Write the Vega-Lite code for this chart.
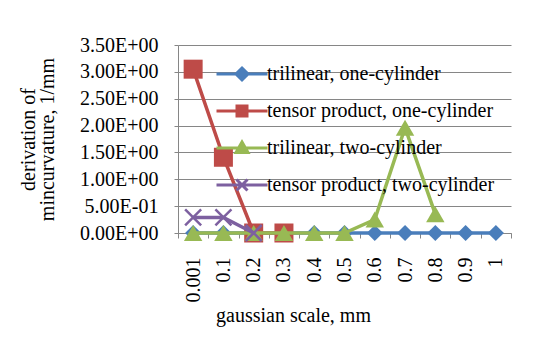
{
  "$schema": "https://vega.github.io/schema/vega-lite/v6.json",
  "autosize": {"type": "none"},
  "width": 333,
  "height": 188,
  "padding": {"left": 178, "top": 45, "right": 36, "bottom": 116},
  "background": "white",
  "config": {
    "view": {"stroke": null},
    "font": "Liberation Serif",
    "axis": {
      "labelFont": "Liberation Serif",
      "titleFont": "Liberation Serif",
      "labelFontSize": 20,
      "titleFontSize": 20,
      "labelColor": "#000000",
      "titleColor": "#000000",
      "titleFontWeight": "normal",
      "domainColor": "#868686",
      "tickColor": "#868686",
      "gridColor": "#868686"
    },
    "legend": {"labelFont": "Liberation Serif", "labelFontSize": 20, "labelColor": "#000000", "labelLimit": 400}
  },
  "data": {
    "values": [
      {"series": "trilinear, one-cylinder", "scale": "0.001", "value": 0},
      {"series": "trilinear, one-cylinder", "scale": "0.1", "value": 0},
      {"series": "trilinear, one-cylinder", "scale": "0.2", "value": 0},
      {"series": "trilinear, one-cylinder", "scale": "0.3", "value": 0},
      {"series": "trilinear, one-cylinder", "scale": "0.4", "value": 0},
      {"series": "trilinear, one-cylinder", "scale": "0.5", "value": 0},
      {"series": "trilinear, one-cylinder", "scale": "0.6", "value": 0},
      {"series": "trilinear, one-cylinder", "scale": "0.7", "value": 0},
      {"series": "trilinear, one-cylinder", "scale": "0.8", "value": 0},
      {"series": "trilinear, one-cylinder", "scale": "0.9", "value": 0},
      {"series": "trilinear, one-cylinder", "scale": "1", "value": 0},
      {"series": "tensor product, one-cylinder", "scale": "0.001", "value": 3.05},
      {"series": "tensor product, one-cylinder", "scale": "0.1", "value": 1.41},
      {"series": "tensor product, one-cylinder", "scale": "0.2", "value": 0},
      {"series": "tensor product, one-cylinder", "scale": "0.3", "value": 0},
      {"series": "trilinear, two-cylinder", "scale": "0.001", "value": 0},
      {"series": "trilinear, two-cylinder", "scale": "0.1", "value": 0},
      {"series": "trilinear, two-cylinder", "scale": "0.2", "value": 0},
      {"series": "trilinear, two-cylinder", "scale": "0.3", "value": 0},
      {"series": "trilinear, two-cylinder", "scale": "0.4", "value": 0},
      {"series": "trilinear, two-cylinder", "scale": "0.5", "value": 0},
      {"series": "trilinear, two-cylinder", "scale": "0.6", "value": 0.25},
      {"series": "trilinear, two-cylinder", "scale": "0.7", "value": 1.96},
      {"series": "trilinear, two-cylinder", "scale": "0.8", "value": 0.35},
      {"series": "tensor product, two-cylinder", "scale": "0.001", "value": 0.29},
      {"series": "tensor product, two-cylinder", "scale": "0.1", "value": 0.29},
      {"series": "tensor product, two-cylinder", "scale": "0.2", "value": 0}
    ]
  },
  "encoding": {
    "x": {
      "field": "scale", "type": "ordinal",
      "sort": ["0.001", "0.1", "0.2", "0.3", "0.4", "0.5", "0.6", "0.7", "0.8", "0.9", "1"],
      "scale": {"type": "band", "paddingInner": 0, "paddingOuter": 0},
      "axis": {
        "title": "gaussian scale, mm",
        "labelAngle": 270,
        "labelAlign": "right",
        "labelBaseline": "middle",
        "tickSize": 5,
        "labelPadding": 19,
        "tickBand": "extent",
        "grid": false,
        "titleX": 115,
        "titleY": 88,
        "titleAlign": "center",
        "titleBaseline": "alphabetic"
      }
    },
    "y": {
      "field": "value", "type": "quantitative",
      "scale": {"domain": [0, 3.5], "nice": false, "zero": true},
      "axis": {
        "title": ["derivation of", "mincurvature, 1/mm"],
        "values": [0, 0.5, 1, 1.5, 2, 2.5, 3, 3.5],
        "labelExpr": "datum.value == 0 ? '0.00E+00' : (datum.value < 1 ? '5.00E-01' : format(datum.value, '.2f') + 'E+00')",
        "tickSize": 4,
        "labelPadding": 16,
        "grid": true,
        "titleX": -150,
        "titleY": 94,
        "titleAlign": "center",
        "titleBaseline": "middle",
        "titleLineHeight": 19
      }
    },
    "color": {
      "field": "series", "type": "nominal",
      "scale": {
        "domain": ["trilinear, one-cylinder", "tensor product, one-cylinder", "trilinear, two-cylinder", "tensor product, two-cylinder"],
        "range": ["#4A7EBB", "#BE4B48", "#98B954", "#7D60A0"]
      },
      "legend": null
    }
  },
  "layer": [
    {"transform": [{"filter": "datum.series == 'trilinear, one-cylinder'"}], "mark": {"type": "line", "strokeWidth": 3.5},
     "encoding": {"color": {"field": "series", "type": "nominal",
      "legend": {
        "orient": "none", "legendX": 54, "legendY": 19, "title": null, "padding": 0,
        "labelFont": "Liberation Serif", "labelFontSize": 20, "labelLimit": 400, "labelColor": "#000000",
        "symbolSize": 100, "rowPadding": 13, "labelOffset": 15, "labelBaseline": "middle",
        "gridAlign": "all",
        "symbolType": "square",
        "encode": {
          "labels": {"update": {"font": {"value": "Liberation Serif"}, "fontSize": {"value": 20}, "fill": {"value": "#000000"}}},
          "symbols": {"update": {
          "shape": {"signal": "datum.value == 'trilinear, one-cylinder' ? 'M-5.1,0H5.1M0,-1.2L1.2,0L0,1.2L-1.2,0Z' : datum.value == 'tensor product, one-cylinder' ? 'M-5.1,0H5.1M-1,-1H1V1H-1Z' : datum.value == 'trilinear, two-cylinder' ? 'M-5.1,0H5.1M0,-1.2L1.2,0.9H-1.2Z' : 'M-5.1,0H5.1M-1.1,-1.1L1.1,1.1M-1.1,1.1L1.1,-1.1'"},
          "fill": {"scale": "color", "field": "value"},
          "stroke": {"scale": "color", "field": "value"},
          "strokeWidth": {"value": 3},
          "opacity": {"value": 1}
        }}}
      }}}},
    {"transform": [{"filter": "datum.series == 'trilinear, one-cylinder'"}], "mark": {"type": "point", "shape": "diamond", "filled": true, "opacity": 1, "size": 260}},
    {"transform": [{"filter": "datum.series == 'tensor product, one-cylinder'"}], "mark": {"type": "line", "strokeWidth": 3.5}},
    {"transform": [{"filter": "datum.series == 'tensor product, one-cylinder'"}], "mark": {"type": "point", "shape": "square", "filled": true, "opacity": 1, "size": 361}},
    {"transform": [{"filter": "datum.series == 'trilinear, two-cylinder'"}], "mark": {"type": "line", "strokeWidth": 3.5}},
    {"transform": [{"filter": "datum.series == 'trilinear, two-cylinder'"}], "mark": {"type": "point", "shape": "triangle-up", "filled": true, "opacity": 1, "size": 340}},
    {"transform": [{"filter": "datum.series == 'tensor product, two-cylinder'"}], "mark": {"type": "line", "strokeWidth": 3.5}},
    {"transform": [{"filter": "datum.series == 'tensor product, two-cylinder'"}], "mark": {"type": "point", "shape": "M-1,-1L1,1M-1,1L1,-1", "filled": false, "opacity": 1, "strokeWidth": 2.5, "size": 256}}
  ]
}
